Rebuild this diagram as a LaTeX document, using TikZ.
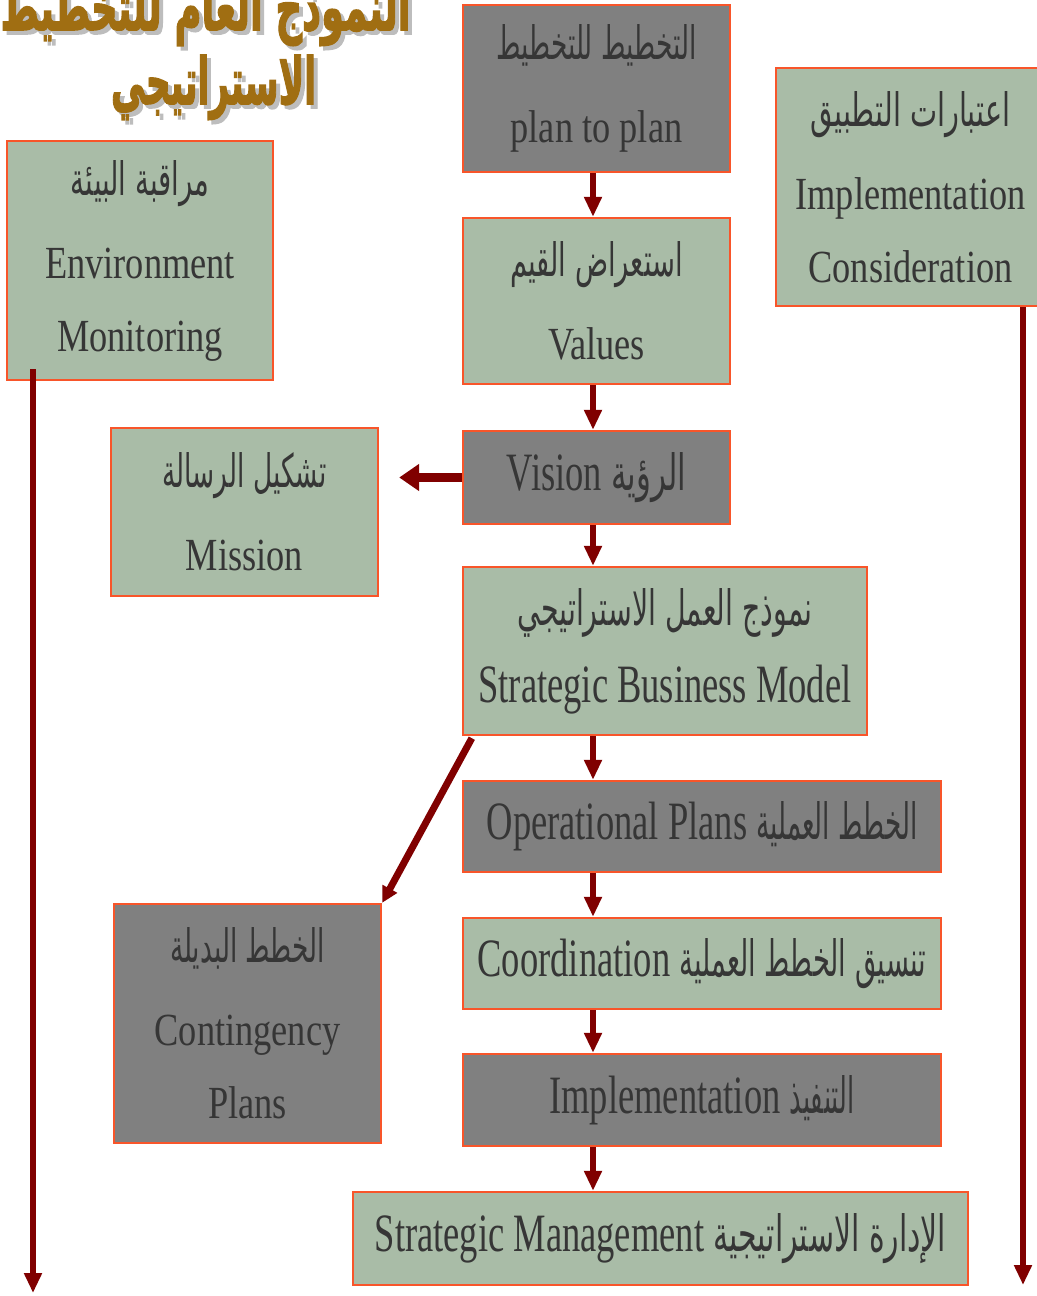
\documentclass[tikz,border=0pt]{standalone}
\usepackage{fontspec}
\usepackage{graphicx}
\usetikzlibrary{arrows.meta}
\TeXXeTstate=1
\setmainfont{Liberation Serif}
% condensed serif faces for the English labels
\newfontfamily\latA[FakeStretch=0.79]{Liberation Serif}
\newfontfamily\latB[FakeStretch=0.676]{Liberation Serif}
\newfontfamily\arabicfont[Script=Arabic]{DejaVu Sans}
\newfontfamily\headingfont[Script=Arabic, BoldFeatures={FakeBold=2.5}]{DejaVu Sans}

\definecolor{boxgray}{HTML}{808080}
\definecolor{boxsage}{HTML}{A9BCA7}
\definecolor{boxline}{HTML}{F8552A}
\definecolor{arrowred}{HTML}{800000}
\definecolor{labelink}{HTML}{363636}
\definecolor{titlebrown}{HTML}{A06E12}
\definecolor{titleshade}{HTML}{BDBDBD}

% Arabic line set to a given width and letter height
\newcommand\arline[3][17.5pt]{\resizebox{#2}{#1}{\arabicfont #3}}
\newcommand\artitle[2]{\resizebox{#1}{24.5pt}{\headingfont\bfseries #2}}

\begin{document}
\begin{tikzpicture}[x=0.5pt,y=-0.5pt,
  box/.style={draw=boxline, line width=1.2pt, inner sep=0pt, align=center,
    text=labelink, font=\latA\fontsize{23pt}{36.5pt}\selectfont},
  darkbox/.style={box, fill=boxgray},
  sagebox/.style={box, fill=boxsage},
  bigtext/.style={font=\latB\fontsize{27pt}{36.5pt}\selectfont},
  flow/.style={draw=arrowred, line width=3pt, -{Triangle[width=8.5pt,length=10pt]}},
  branch/.style={draw=arrowred, line width=4.5pt, -{Triangle[width=13pt,length=10pt]}},
  slant/.style={draw=arrowred, line width=3.5pt, -{Triangle[width=8pt,length=8pt]}},
  titletext/.style={inner sep=0pt, text=titlebrown},
  titleshadow/.style={inner sep=0pt, text=titleshade}]

\useasboundingbox[fill=white] (0,0) rectangle (1037,1296);

% heading, with its soft drop shadow
\node[titleshadow, anchor=base east] (titleTopShade) at (415,34) {\artitle{205pt}{\beginR النموذج العام للتخطيط\endR}};
\node[titleshadow, anchor=base] (titleBottomShade) at (217.5,108) {\artitle{102.5pt}{\beginR الاستراتيجي\endR}};
\node[titletext, anchor=base east] (titleTop) at (411,30) {\artitle{205pt}{\beginR النموذج العام للتخطيط\endR}};
\node[titletext, anchor=base] (titleBottom) at (213.5,104) {\artitle{102.5pt}{\beginR الاستراتيجي\endR}};

% main column
\node[darkbox, minimum width=133.5pt, minimum height=83.5pt] (plan) at (596.5,88.5)
  {\arline{100pt}{\beginR التخطيط للتخطيط\endR}\\[5pt]plan to plan};
\node[sagebox, minimum width=133.5pt, minimum height=83pt] (values) at (596.5,301)
  {\arline{86.5pt}{\beginR استعراض القيم\endR}\\[5pt]Values};
\node[darkbox, bigtext, minimum width=133.5pt, minimum height=46.5pt] (vision) at (596.5,477.5)
  {Vision \arline[19pt]{37.5pt}{\beginR الرؤية\endR}};
\node[sagebox, bigtext, minimum width=202pt, minimum height=84pt] (sbm) at (665,651)
  {\arline[18.5pt]{147.5pt}{\beginR نموذج العمل الاستراتيجي\endR}\\[2pt]Strategic Business Model};
\node[darkbox, bigtext, minimum width=239pt, minimum height=45.5pt] (oper) at (702,826.5)
  {Operational Plans \arline[19pt]{80.5pt}{\beginR الخطط العملية\endR}};
\node[sagebox, bigtext, minimum width=239pt, minimum height=45.5pt] (coord) at (702,963.5)
  {Coordination \arline[19pt]{123.5pt}{\beginR تنسيق الخطط العملية\endR}};
\node[darkbox, bigtext, minimum width=239pt, minimum height=46pt] (impl) at (702,1100)
  {Implementation \arline[19pt]{32.5pt}{\beginR التنفيذ\endR}};
\node[sagebox, bigtext, minimum width=307.5pt, minimum height=46.5pt] (stratm) at (660.5,1238.5)
  {Strategic Management \arline[19pt]{116.5pt}{\beginR الإدارة الاستراتيجية\endR}};

% side boxes
\node[sagebox, minimum width=133.5pt, minimum height=84pt] (mission) at (244.5,512)
  {\arline{82pt}{\beginR تشكيل الرسالة\endR}\\[5pt]Mission};
\node[darkbox, minimum width=133.5pt, minimum height=119.5pt] (conting) at (247.5,1023.5)
  {\arline{77.5pt}{\beginR الخطط البديلة\endR}\\[5pt]Contingency\\Plans};
\node[sagebox, minimum width=133pt, minimum height=119.5pt] (env) at (140,260.5)
  {\arline{69pt}{\beginR مراقبة البيئة\endR}\\[5pt]Environment\\Monitoring};
\node[sagebox, minimum width=134.5pt, minimum height=119pt] (implcons) at (910.5,187)
  {\arline{100pt}{\beginR اعتبارات التطبيق\endR}\\[5pt]Implementation\\Consideration};

% connectors
\coordinate (axis) at (593,0);
\coordinate (envEnd) at (33,1293);
\coordinate (consEnd) at (1023,1285);

\draw[flow] (plan.south -| axis) -- (values.north -| axis);
\draw[flow] (values.south -| axis) -- (vision.north -| axis);
\draw[flow] (vision.south -| axis) -- (sbm.north -| axis);
\draw[flow] (sbm.south -| axis) -- (oper.north -| axis);
\draw[flow] (oper.south -| axis) -- (coord.north -| axis);
\draw[flow] (coord.south -| axis) -- (impl.north -| axis);
\draw[flow] (impl.south -| axis) -- (stratm.north -| axis);

\draw[branch, shorten >=10pt] (vision.west) -- (vision.west -| mission.east);
\draw[slant] ([xshift=5pt,yshift=-1pt]sbm.south west) -- (conting.north east);

\draw[flow] ([yshift=6pt]env.south -| envEnd) -- (envEnd);
\draw[flow] (implcons.south -| consEnd) -- (consEnd);
\end{tikzpicture}
\end{document}
